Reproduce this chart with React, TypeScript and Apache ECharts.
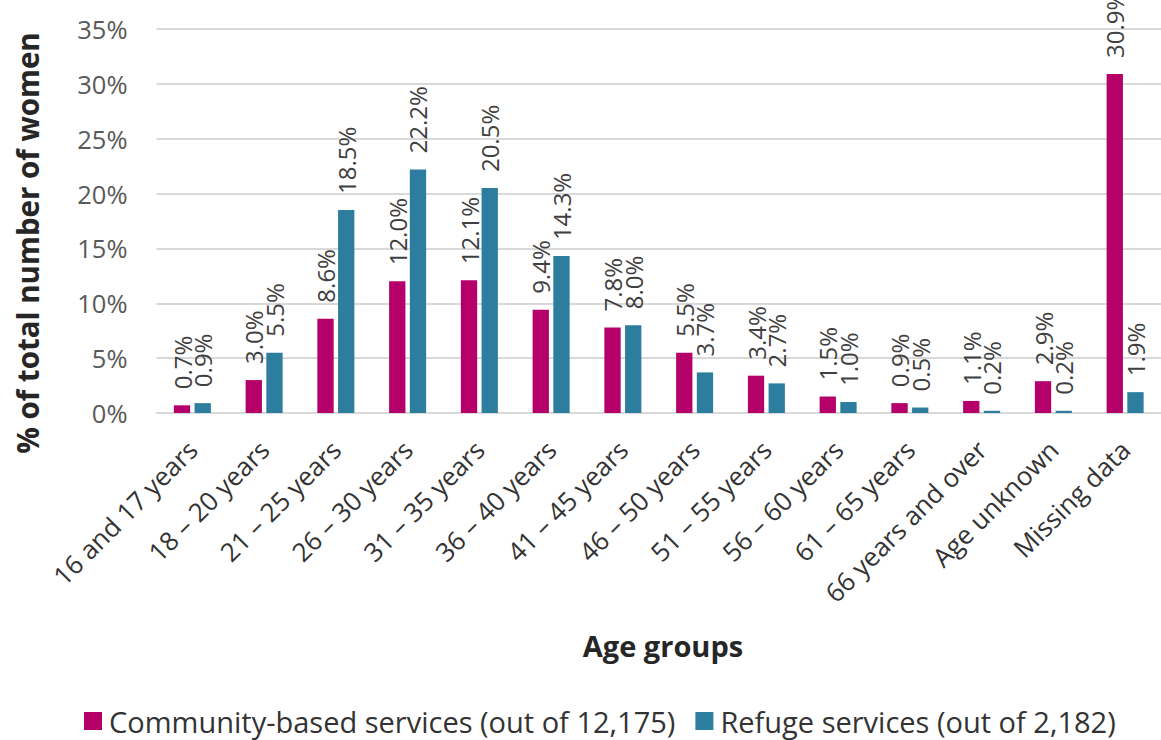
import React, { useEffect, useRef } from "react";
import * as echarts from "echarts";

const categories = [
  "16 and 17 years",
  "18 – 20 years",
  "21 – 25 years",
  "26 – 30 years",
  "31 – 35 years",
  "36 – 40 years",
  "41 – 45 years",
  "46 – 50 years",
  "51 – 55 years",
  "56 – 60 years",
  "61 – 65 years",
  "66 years and over",
  "Age unknown",
  "Missing data",
];
const communityValues = [0.7, 3.0, 8.6, 12.0, 12.1, 9.4, 7.8, 5.5, 3.4, 1.5, 0.9, 1.1, 2.9, 30.9];
const refugeValues = [0.9, 5.5, 18.5, 22.2, 20.5, 14.3, 8.0, 3.7, 2.7, 1.0, 0.5, 0.2, 0.2, 1.9];
const seriesNames = ["Community-based services (out of 12,175)", "Refuge services (out of 2,182)"];
const colors = ["#B5006A", "#2D7D9E"];
const yAxisTitle = "% of total number of women";
const xAxisTitle = "Age groups";

const FONT = "'Open Sans', 'Noto Sans', sans-serif";

export default function App() {
  const ref = useRef<HTMLDivElement>(null);
  useEffect(() => {
    if (!ref.current) return;
    const chart = echarts.init(ref.current, undefined, { renderer: "svg" });
    const labelCfg = {
      show: true,
      position: "top" as const,
      rotate: 90,
      align: "left" as const,
      verticalAlign: "middle" as const,
      distance: 16,
      fontSize: 24,
      fontFamily: FONT,
      color: "#404040",
      formatter: (p: any) => `${Number(p.value).toFixed(1)}%`,
    };
    chart.setOption({
      animation: false,
      textStyle: { fontFamily: FONT },
      grid: { left: 156.5, right: -9, top: 29, bottom: 327, containLabel: false },
      legend: {
        left: 79,
        top: 701,
        itemWidth: 18,
        itemHeight: 18,
        itemGap: 20,
        icon: "rect",
        textStyle: {
          fontSize: 29,
          lineHeight: 30,
          fontFamily: FONT,
          color: "#333333",
          padding: [0, 0, 0, 2],
        },
        data: seriesNames,
      },
      xAxis: {
        type: "category",
        data: categories,
        axisLine: { show: true, lineStyle: { color: "#d9d9d9", width: 2 } },
        axisTick: { show: false },
        axisLabel: {
          rotate: 45,
          interval: 0,
          margin: 32,
          fontSize: 26,
          fontFamily: FONT,
          color: "#333333",
        },
      },
      yAxis: {
        type: "value",
        min: 0,
        max: 35,
        interval: 5,
        axisLine: { show: false },
        axisTick: { show: false },
        splitLine: { lineStyle: { color: "#d9d9d9", width: 2 } },
        axisLabel: {
          formatter: "{value}%",
          margin: 29,
          fontSize: 25.5,
          fontFamily: FONT,
          color: "#595959",
        },
      },
      graphic: [
        {
          type: "text",
          x: 27,
          y: 243,
          rotation: Math.PI / 2,
          style: {
            text: yAxisTitle,
            fontSize: 29.5,
            fontWeight: "bold",
            fontFamily: FONT,
            fill: "#262626",
            align: "center",
            verticalAlign: "middle",
          },
        },
        {
          type: "text",
          x: 663,
          y: 645,
          style: {
            text: xAxisTitle,
            fontSize: 29,
            fontWeight: "bold",
            fontFamily: FONT,
            fill: "#262626",
            align: "center",
            verticalAlign: "middle",
          },
        },
      ],
      series: [
        {
          name: seriesNames[0],
          type: "bar",
          data: communityValues,
          barWidth: 16.3,
          barGap: "27%",
          itemStyle: { color: colors[0] },
          label: labelCfg,
        },
        {
          name: seriesNames[1],
          type: "bar",
          data: refugeValues,
          barWidth: 16.3,
          barGap: "27%",
          itemStyle: { color: colors[1] },
          label: labelCfg,
        },
      ],
    });
    return () => chart.dispose();
  }, []);
  return (
    <div
      ref={ref}
      style={{ position: "absolute", left: 0, top: 0, width: 1161, height: 740 }}
    />
  );
}
